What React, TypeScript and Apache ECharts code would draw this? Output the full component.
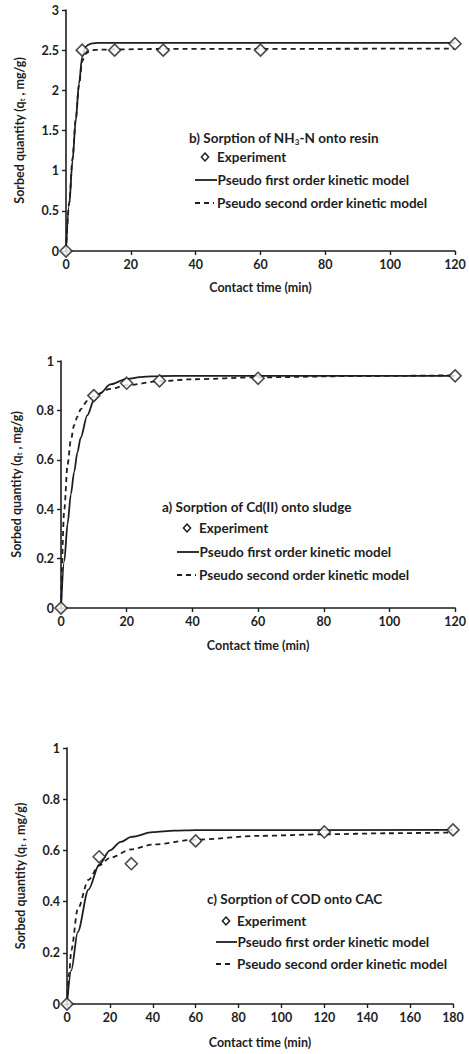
import React, { useEffect, useRef } from "react";
import * as echarts from "echarts";

// ---------- Chart b) NH3-N onto resin ----------
const nhTime = [0, 5, 15, 30, 60, 120];
const nhExp = [0, 2.5, 2.5, 2.5, 2.5, 2.58];
const nhPfoTime = [0, 1, 2, 3, 4, 5, 6, 7, 8, 10, 15, 120];
const nhPfo = [0, 0.58, 1.12, 1.62, 2.08, 2.42, 2.54, 2.57, 2.585, 2.59, 2.59, 2.59];
const nhPsoTime = [0, 1, 2, 3, 4, 5, 6, 7, 8, 10, 15, 30, 120];
const nhPso = [0, 0.6, 1.15, 1.64, 2.06, 2.36, 2.45, 2.48, 2.5, 2.505, 2.51, 2.515, 2.52];
const nhYTicks = { min: 0, max: 3, interval: 0.5 };

// ---------- Chart a) Cd(II) onto sludge ----------
const cdTime = [0, 10, 20, 30, 60, 120];
const cdExp = [0, 0.86, 0.91, 0.92, 0.93, 0.94];
const cdPfoTime = [0, 1, 2, 3, 4, 5, 6, 8, 10, 12, 15, 20, 25, 30, 40, 120];
const cdPfo = [0, 0.19, 0.34, 0.46, 0.55, 0.63, 0.69, 0.78, 0.84, 0.87, 0.905, 0.928, 0.936, 0.939, 0.94, 0.94];
const cdPsoTime = [0, 1, 2, 3, 4, 5, 6, 8, 10, 15, 20, 30, 40, 60, 90, 120];
const cdPso = [0, 0.4, 0.58, 0.68, 0.74, 0.775, 0.805, 0.838, 0.858, 0.887, 0.902, 0.918, 0.926, 0.934, 0.939, 0.942];

// ---------- Chart c) COD onto CAC ----------
const codTime = [0, 15, 30, 60, 120, 180];
const codExp = [0, 0.575, 0.548, 0.637, 0.672, 0.68];
const codPfoTime = [0, 2, 5, 10, 15, 20, 25, 30, 40, 50, 60, 180];
const codPfo = [0, 0.131, 0.281, 0.447, 0.544, 0.6, 0.633, 0.653, 0.671, 0.677, 0.679, 0.68];
const codPsoTime = [0, 1, 2, 5, 10, 15, 20, 30, 40, 60, 90, 120, 150, 180];
const codPso = [0, 0.12, 0.21, 0.37, 0.485, 0.541, 0.571, 0.604, 0.623, 0.642, 0.657, 0.663, 0.667, 0.67];

const legendNames = ["Experiment", "Pseudo first order kinetic model", "Pseudo second order kinetic model"];
const xTitle = "Contact time (min)";
const yTitle = "Sorbed quantity (q{s|t} , mg/g)";

const INK = "#1e1e1e";
const FONT = "Lato, 'Open Sans', sans-serif";

const zip = (xs: number[], ys: number[]) => xs.map((x, i) => [x, ys[i]]);

export default function App() {
  const ref = useRef<HTMLDivElement>(null);

  useEffect(() => {
    if (!ref.current) return;
    const chart = echarts.init(ref.current, undefined, { renderer: "svg" });

    const grids = [
      { left: 66, top: 10, width: 389, height: 241 },
      { left: 61, top: 361, width: 398, height: 247 },
      { left: 67, top: 748, width: 386, height: 256 },
    ];

    const axisCommon = {
      axisLine: { show: true, onZero: false, lineStyle: { color: INK, width: 1.6 } },
      axisTick: { show: true, length: 4, lineStyle: { color: INK, width: 1.4 } },
      splitLine: { show: false },
      axisLabel: { color: INK, fontSize: 12.5, fontWeight: "bold", fontFamily: FONT, margin: 7 },
      nameLocation: "middle",
      nameTextStyle: { color: INK, fontSize: 12.5, fontWeight: "bold", fontFamily: FONT },
    };

    const subRich = {
      s: { fontSize: 7.5, fontWeight: "bold", fontFamily: FONT, color: INK, lineHeight: 8, verticalAlign: "bottom" },
    };

    const xMax = [120, 120, 180];
    const yRanges = [nhYTicks, { min: 0, max: 1, interval: 0.2 }, { min: 0, max: 1, interval: 0.2 }];
    const xGaps = [30, 31, 32];
    const yGaps = [40, 38, 40];

    const xAxis = grids.map((_, i) => ({
      ...axisCommon,
      type: "value",
      gridIndex: i,
      min: 0,
      max: xMax[i],
      interval: 20,
      name: xTitle,
      nameGap: xGaps[i],
    }));
    const yAxis = grids.map((_, i) => ({
      ...axisCommon,
      type: "value",
      gridIndex: i,
      min: yRanges[i].min,
      max: yRanges[i].max,
      interval: yRanges[i].interval,
      name: yTitle,
      nameGap: yGaps[i],
      nameRotate: 90,
      nameTextStyle: { ...axisCommon.nameTextStyle, lineHeight: 14, rich: subRich },
    }));

    const datasets = [
      { exp: zip(nhTime, nhExp), pfo: zip(nhPfoTime, nhPfo), pso: zip(nhPsoTime, nhPso) },
      { exp: zip(cdTime, cdExp), pfo: zip(cdPfoTime, cdPfo), pso: zip(cdPsoTime, cdPso) },
      { exp: zip(codTime, codExp), pfo: zip(codPfoTime, codPfo), pso: zip(codPsoTime, codPso) },
    ];

    const series: any[] = [];
    datasets.forEach((d, i) => {
      series.push({
        name: legendNames[1],
        type: "line",
        xAxisIndex: i,
        yAxisIndex: i,
        data: d.pfo,
        symbol: "none",
        smooth: 0.3,
        smoothMonotone: "x",
        lineStyle: { color: INK, width: 1.8 },
        z: 2,
      });
      series.push({
        name: legendNames[2],
        type: "line",
        xAxisIndex: i,
        yAxisIndex: i,
        data: d.pso,
        symbol: "none",
        smooth: 0.3,
        smoothMonotone: "x",
        lineStyle: { color: INK, width: 1.8, type: [5, 4] },
        z: 2,
      });
      series.push({
        name: legendNames[0],
        type: "scatter",
        xAxisIndex: i,
        yAxisIndex: i,
        data: d.exp,
        symbol: "diamond",
        symbolSize: 12,
        itemStyle: { color: "#ffffff", borderColor: INK, borderWidth: 1.6 },
        z: 5,
      });
    });

    const textStyle = (text: string, x: number, y: number) => ({
      type: "text",
      x,
      y,
      style: {
        text,
        fill: INK,
        fontSize: 13.5,
        fontWeight: "bold",
        fontFamily: FONT,
        verticalAlign: "middle",
        align: "left",
        lineHeight: 15,
        rich: {
          s: { fontSize: 8, fontWeight: "bold", fontFamily: FONT, fill: INK, lineHeight: 8, verticalAlign: "bottom" },
        },
      },
    });

    const legendBlock = (
      title: string,
      tx: number,
      ty: number,
      mx: number,
      textX: number,
      lx0: number,
      lx1: number,
      y1: number,
      y2: number,
      y3: number
    ) => [
      textStyle(title, tx, ty),
      {
        type: "polygon",
        shape: { points: [[mx, y1 - 4], [mx + 3.6, y1], [mx, y1 + 4], [mx - 3.6, y1]] },
        style: { fill: "#fff", stroke: INK, lineWidth: 1.5 },
      },
      textStyle(legendNames[0], textX, y1),
      {
        type: "line",
        shape: { x1: lx0, y1: y2, x2: lx1, y2: y2 },
        style: { stroke: INK, lineWidth: 1.8 },
      },
      textStyle(legendNames[1], lx1 + 0.5, y2),
      {
        type: "line",
        shape: { x1: lx0, y1: y3, x2: lx1 - 3, y2: y3 },
        style: { stroke: INK, lineWidth: 1.8, lineDash: [5, 4] },
      },
      textStyle(legendNames[2], textX, y3),
    ];

    const graphic = [
      ...legendBlock("b) Sorption of NH{s|3}-N onto resin", 189, 138, 205, 217, 195, 217, 157, 180, 203),
      ...legendBlock("a) Sorption of Cd(II) onto sludge", 162, 507, 187, 199, 177, 199, 528, 552, 575),
      ...legendBlock("c) Sorption of COD onto CAC", 207, 899, 226, 237, 216, 237, 921, 942, 964),
    ];

    chart.setOption({
      animation: false,
      backgroundColor: "#ffffff",
      grid: grids.map((g) => ({ ...g, containLabel: false })),
      xAxis,
      yAxis,
      series,
      graphic,
    } as any);

    return () => chart.dispose();
  }, []);

  return (
    <div
      ref={ref}
      style={{ position: "absolute", left: 0, top: 0, width: 469, height: 1054, background: "#fff" }}
    />
  );
}
